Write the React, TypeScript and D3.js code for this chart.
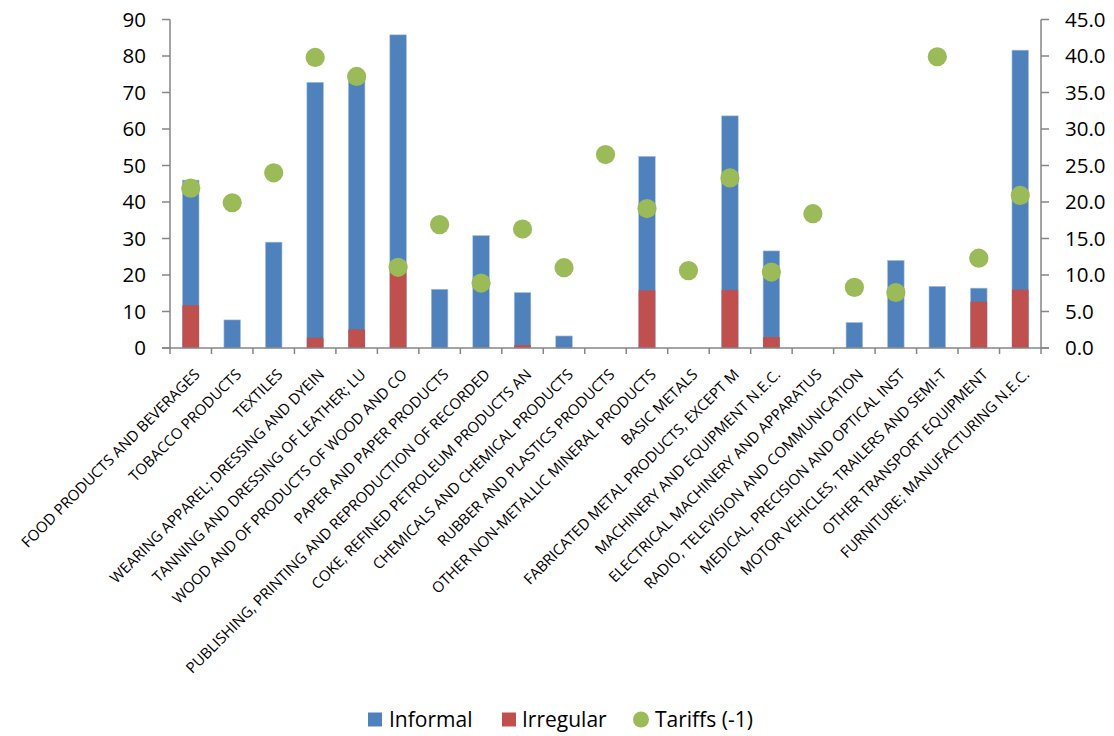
import React from "react";
import * as d3 from "d3";

// Manufacturing sectors (ISIC rev.3 names, truncated as in the source table)
const categories: string[] = [
  "FOOD PRODUCTS AND BEVERAGES",
  "TOBACCO PRODUCTS",
  "TEXTILES",
  "WEARING APPAREL; DRESSING AND DYEIN",
  "TANNING AND DRESSING OF LEATHER; LU",
  "WOOD AND OF PRODUCTS OF WOOD AND CO",
  "PAPER AND PAPER PRODUCTS",
  "PUBLISHING, PRINTING AND REPRODUCTION OF RECORDED",
  "COKE, REFINED PETROLEUM PRODUCTS AN",
  "CHEMICALS AND CHEMICAL PRODUCTS",
  "RUBBER AND PLASTICS PRODUCTS",
  "OTHER NON-METALLIC MINERAL PRODUCTS",
  "BASIC METALS",
  "FABRICATED METAL PRODUCTS, EXCEPT M",
  "MACHINERY AND EQUIPMENT N.E.C.",
  "ELECTRICAL MACHINERY AND APPARATUS",
  "RADIO, TELEVISION AND COMMUNICATION",
  "MEDICAL, PRECISION AND OPTICAL INST",
  "MOTOR VEHICLES, TRAILERS AND SEMI-T",
  "OTHER TRANSPORT EQUIPMENT",
  "FURNITURE; MANUFACTURING N.E.C.",
];

// Share of informal firms (left axis)
const informal: number[] = [
  46.0, 7.7, 29.0, 72.8, 75.0, 85.8, 16.1, 30.8, 15.2, 3.3, 0, 52.5, 0, 63.6,
  26.6, 0, 7.0, 24.0, 16.9, 16.4, 81.6,
];

// Share of irregular firms (left axis)
const irregular: number[] = [
  11.7, 0, 0, 2.8, 5.1, 21.0, 0, 0, 0.8, 0, 0, 15.8, 0, 15.9, 3.0, 0, 0, 0, 0,
  12.7, 16.0,
];

// Tariffs, lagged one period (right axis)
const tariffs: number[] = [
  21.9, 19.9, 24.0, 39.8, 37.2, 11.05, 16.9, 8.9, 16.3, 11.0, 26.5, 19.1, 10.6,
  23.3, 10.4, 18.4, 8.3, 7.6, 39.9, 12.3, 20.9,
];

const leftTicks: number[] = [0, 10, 20, 30, 40, 50, 60, 70, 80, 90];
const rightTicks: number[] = [0, 5, 10, 15, 20, 25, 30, 35, 40, 45];

const seriesNames = ["Informal", "Irregular", "Tariffs (-1)"];

const BLUE = "#4F81BD";
const RED = "#C0504D";
const GREEN = "#9BBB59";
const AXIS = "#868686";
const FONT = "'Open Sans', 'Noto Sans', sans-serif";

export default function App() {
  const width = 1114;
  const height = 736;
  const left = 170;
  const right = 1041;
  const top = 19.5;
  const bottom = 348;

  const x = d3.scaleBand<string>().domain(categories).range([left, right]).padding(0);
  const barW = x.bandwidth() * 0.4;
  const yL = d3.scaleLinear().domain([0, 90]).range([bottom, top]);
  const yR = d3.scaleLinear().domain([0, 45]).range([bottom, top]);

  const tickEdges = categories.map((c) => x(c) as number).concat([right]);

  return (
    <svg
      width={width}
      height={height}
      style={{ position: "absolute", left: 0, top: 0, background: "#fff" }}
      fontFamily={FONT}
    >
      {/* informal bars */}
      {categories.map((c, i) =>
        informal[i] > 0 ? (
          <rect
            key={"inf" + i}
            x={(x(c) as number) + (x.bandwidth() - barW) / 2}
            y={yL(informal[i])}
            width={barW}
            height={bottom - yL(informal[i])}
            fill={BLUE}
            stroke="#a9c2e2"
            strokeWidth={0.6}
          />
        ) : null
      )}
      {/* irregular bars, drawn over the informal ones */}
      {categories.map((c, i) =>
        irregular[i] > 0 ? (
          <rect
            key={"irr" + i}
            x={(x(c) as number) + (x.bandwidth() - barW) / 2}
            y={yL(irregular[i])}
            width={barW}
            height={bottom - yL(irregular[i])}
            fill={RED}
          />
        ) : null
      )}

      {/* left axis */}
      <line x1={left} x2={left} y1={top} y2={bottom} stroke={AXIS} strokeWidth={1.5} />
      {leftTicks.map((t) => (
        <g key={"lt" + t}>
          <line x1={left - 8} x2={left} y1={yL(t)} y2={yL(t)} stroke={AXIS} strokeWidth={1.5} />
          <text x={left - 24} y={yL(t)} dy="0.36em" textAnchor="end" fontSize={20.5} fill="#000">
            {d3.format("d")(t)}
          </text>
        </g>
      ))}

      {/* right axis */}
      <line x1={right} x2={right} y1={top} y2={bottom} stroke={AXIS} strokeWidth={1.5} />
      {rightTicks.map((t) => (
        <g key={"rt" + t}>
          <line x1={right} x2={right + 8} y1={yR(t)} y2={yR(t)} stroke={AXIS} strokeWidth={1.5} />
          <text x={right + 24} y={yR(t)} dy="0.36em" textAnchor="start" fontSize={20.5} fill="#000">
            {d3.format(".1f")(t)}
          </text>
        </g>
      ))}

      {/* category axis */}
      <line x1={left - 8} x2={right + 8} y1={bottom} y2={bottom} stroke={AXIS} strokeWidth={1.5} />
      {tickEdges.map((tx, i) => (
        <line key={"xt" + i} x1={tx} x2={tx} y1={bottom} y2={bottom + 6} stroke={AXIS} strokeWidth={1.5} />
      ))}
      {categories.map((c) => {
        const cx = (x(c) as number) + x.bandwidth() / 2;
        return (
          <text
            key={"cl" + c}
            transform={`translate(${cx + 10},${bottom + 27.5}) rotate(-45)`}
            textAnchor="end"
            fontSize={15}
            fill="#000"
          >
            {c}
          </text>
        );
      })}

      {/* tariff markers */}
      {categories.map((c, i) => (
        <circle
          key={"tf" + i}
          cx={(x(c) as number) + x.bandwidth() / 2}
          cy={yR(tariffs[i])}
          r={9.6}
          fill={GREEN}
        />
      ))}

      {/* legend */}
      <g fontSize={21} fill="#000">
        <rect x={368} y={712.5} width={14} height={14} fill={BLUE} />
        <text x={389} y={726.5}>{seriesNames[0]}</text>
        <rect x={502} y={712.5} width={14} height={14} fill={RED} />
        <text x={522} y={726.5}>{seriesNames[1]}</text>
        <circle cx={641} cy={719.5} r={8} fill={GREEN} />
        <text x={655} y={726.5}>{seriesNames[2]}</text>
      </g>
    </svg>
  );
}
